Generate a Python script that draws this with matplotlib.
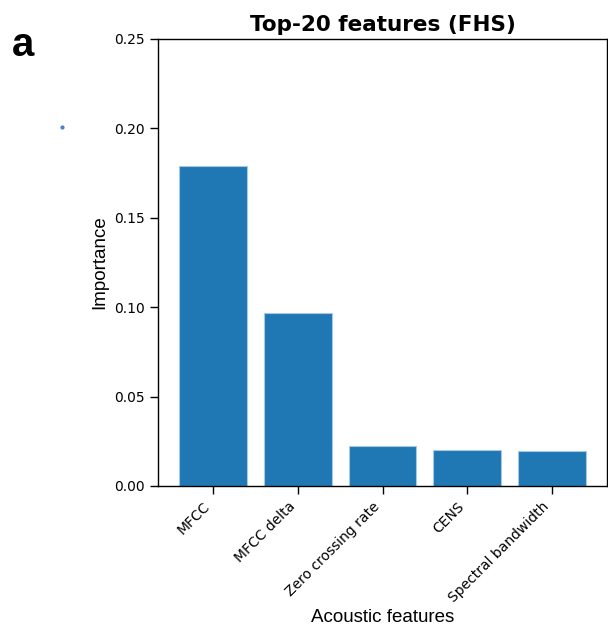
import matplotlib
matplotlib.use("Agg")
import matplotlib.pyplot as plt
from matplotlib.lines import Line2D

features = ["MFCC", "MFCC delta", "Zero crossing rate", "CENS", "Spectral bandwidth"]
importance = [0.179, 0.0968, 0.0224, 0.0201, 0.0193]
yticks = [0.00, 0.05, 0.10, 0.15, 0.20, 0.25]

fig = plt.figure(figsize=(6.08, 6.31), dpi=100)
ax = fig.add_axes([0.2599, 0.2298, 0.7385, 0.7084])

x = range(len(features))
ax.bar(x, importance, width=0.8, color="#1f77b4", edgecolor="#a9c8e4", linewidth=0.8)

ax.set_xlim(-0.65, len(features) - 1 + 0.65)
ax.set_ylim(0, 0.25)
ax.set_yticks(yticks)
ax.set_yticklabels([f"{t:.2f}" for t in yticks], fontsize=10)
ax.set_xticks(list(x))
ax.set_xticklabels(features, rotation=45, ha="right", fontsize=10)
ax.tick_params(direction="out", length=6, width=1)

for s in ax.spines.values():
    s.set_linewidth(1)

ax.set_ylabel("Importance", family="Liberation Sans", fontsize=13.5)
ax.set_xlabel("Acoustic features", family="Liberation Sans", fontsize=13.5, labelpad=3)
ax.set_title("Top-20 features (FHS)", fontsize=15.5, fontweight="bold", pad=6)

fig.text(0.019, 0.928, "a", family="Liberation Sans", fontsize=29, fontweight="bold", va="center")
# stray dot seen in the original panel
fig.add_artist(Line2D([0.102], [0.799], marker="o", markersize=2, color="#4a7fd0", transform=fig.transFigure))

fig.savefig("out.png", dpi=100)
